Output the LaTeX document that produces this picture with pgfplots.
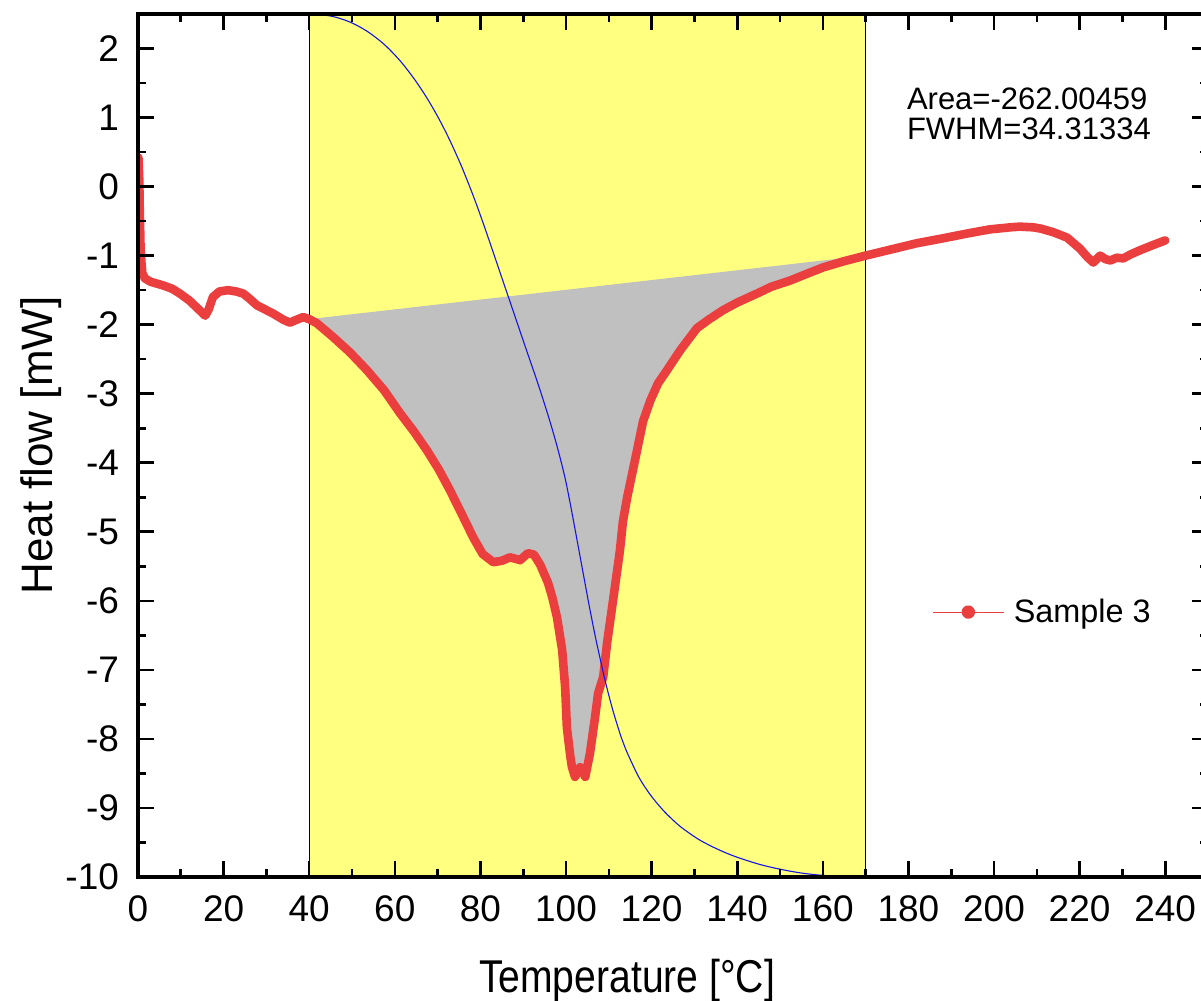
\documentclass[border=0pt]{standalone}
\usepackage{fontspec}
\setmainfont{Liberation Sans}
\usepackage{graphicx}
\usepackage{pgfplots}
\pgfplotsset{compat=1.18}
\usepackage{pgfplotstable}
\definecolor{hlyellow}{RGB}{255,255,128}
\definecolor{areagray}{RGB}{192,192,192}
\definecolor{curvered}{RGB}{235,62,62}
\definecolor{intblue}{RGB}{20,20,230}

\pgfplotstableread{
x y
0.1 0.42
0.3 0.10
0.4 -0.30
0.5 -0.60
0.6 -0.90
0.8 -1.10
1.0 -1.25
1.6 -1.33
3.0 -1.38
5.8 -1.43
8.0 -1.48
9.8 -1.55
12.0 -1.65
13.7 -1.75
15.7 -1.87
16.5 -1.78
17.5 -1.60
19.0 -1.52
21.0 -1.50
23.0 -1.52
24.6 -1.55
26.0 -1.62
27.8 -1.72
31.6 -1.84
34.0 -1.93
35.5 -1.97
37.0 -1.93
38.6 -1.89
40.0 -1.92
41.8 -1.98
45.6 -2.18
49.5 -2.40
53.5 -2.66
57.5 -2.95
61.2 -3.28
64.5 -3.55
67.5 -3.82
70.3 -4.10
72.9 -4.40
75.7 -4.75
78.3 -5.08
80.5 -5.32
83.0 -5.44
85.0 -5.42
86.9 -5.37
89.3 -5.41
91.1 -5.31
92.5 -5.33
94.0 -5.48
95.8 -5.74
96.8 -5.95
97.9 -6.24
99.1 -6.71
99.8 -7.25
100.2 -7.83
101.0 -8.25
101.4 -8.41
102.1 -8.55
103.3 -8.41
104.5 -8.55
105.6 -8.21
106.8 -7.68
107.5 -7.34
108.7 -7.10
109.6 -6.61
111.0 -5.99
112.6 -5.27
113.3 -4.85
114.3 -4.50
116.6 -3.82
118.0 -3.40
119.7 -3.10
121.5 -2.85
123.6 -2.66
126.7 -2.37
130.6 -2.05
133.5 -1.92
136.7 -1.79
140.0 -1.68
144.6 -1.55
148.0 -1.45
152.4 -1.36
156.0 -1.27
160.1 -1.17
165.0 -1.08
170.0 -1.00
176.0 -0.91
182.0 -0.82
188.0 -0.75
193.7 -0.68
199.0 -0.62
203.8 -0.59
206.0 -0.58
209.2 -0.59
211.0 -0.61
213.8 -0.66
215.5 -0.70
217.1 -0.74
218.6 -0.82
220.1 -0.90
221.8 -1.02
223.2 -1.10
224.8 -1.00
226.0 -1.05
227.2 -1.07
228.7 -1.03
230.2 -1.04
232.0 -0.98
234.2 -0.92
237.0 -0.85
240.0 -0.78
}\sample

\pgfplotstableread{
x y
40.0 2.500
41.8 2.497
45.6 2.463
49.5 2.384
53.5 2.251
57.5 2.061
61.2 1.825
64.5 1.563
67.5 1.284
70.3 0.983
72.9 0.665
75.7 0.277
78.3 -0.129
80.5 -0.503
83.0 -0.953
85.0 -1.319
86.9 -1.664
89.3 -2.102
91.1 -2.429
92.5 -2.681
94.0 -2.959
95.8 -3.310
96.8 -3.517
97.9 -3.758
99.1 -4.044
99.8 -4.227
100.2 -4.343
101.0 -4.594
101.4 -4.725
102.1 -4.959
103.3 -5.361
104.5 -5.764
105.6 -6.129
106.8 -6.502
107.5 -6.705
108.7 -7.037
109.6 -7.271
111.0 -7.597
112.6 -7.920
113.3 -8.043
114.3 -8.200
116.6 -8.505
118.0 -8.655
119.7 -8.809
121.5 -8.949
123.6 -9.092
126.7 -9.269
130.6 -9.440
133.5 -9.540
136.7 -9.633
140.0 -9.714
144.6 -9.806
148.0 -9.860
152.4 -9.916
156.0 -9.951
160.1 -9.977
165.0 -9.994
170.0 -10.000
}\integral

\begin{document}
\begin{tikzpicture}
\useasboundingbox (0pt,0pt) rectangle (600.5pt,500.5pt);
\clip (0pt,0pt) rectangle (600.5pt,500.5pt);
\begin{axis}[
  at={(69pt,62pt)}, anchor=south west,
  scale only axis, width=535pt, height=431.5pt,
  xmin=0, xmax=250, ymin=-10, ymax=2.5,
  xtick={0,20,...,240}, minor x tick num=1,
  ytick={-10,-9,...,2}, minor y tick num=1,
  tick pos=both, xticklabel pos=bottom, yticklabel pos=left,
  tick align=inside,
  major tick length=8pt, minor tick length=4pt,
  every tick/.style={black, line width=1.3pt},
  axis line style={line width=1.6pt},
  axis on top,
  clip=true,
  /pgf/number format/assume math mode=true,
  ticklabel style={font=\fontsize{18.5}{18.5}\selectfont},
  xticklabel style={yshift=-6pt},
  yticklabel style={xshift=-6pt},
  xlabel={\scalebox{0.85}[1]{Temperature [°C]}},
  ylabel={Heat flow [mW]},
  xlabel style={at={(axis description cs:0.457,-0.1344)}, anchor=base, font=\fontsize{23}{23}\selectfont},
  ylabel style={at={(axis description cs:-0.0795,0.5)}, anchor=base, font=\fontsize{22}{22}\selectfont},
  legend style={at={(0.742,0.307)}, anchor=west, draw=none, fill=none, inner sep=0pt,
    font=\fontsize{16.2}{16.2}\selectfont},
  legend cell align=left,
  legend image code/.code={
    \path[draw=none, fill=none] (0pt,-0.5pt) rectangle (38.5pt,0.5pt);
    \draw[line width=0.5pt, curvered, line cap=butt] (0pt,0pt) -- (35.5pt,0pt);
    \fill[curvered] (17.75pt,0pt) circle (1.25pt);
  },
]
\addplot[fill=hlyellow, draw=black, line width=0.5pt, forget plot]
  coordinates {(40,-10) (40,2.5) (170,2.5) (170,-10)} -- cycle;
\addplot[fill=areagray, draw=none, forget plot, restrict x to domain=40:170]
  table[x=x, y=y] {\sample} -- cycle;
\addplot[curvered, line width=4.3pt, line join=round, line cap=round]
  table[x=x, y=y] {\sample};
\addlegendentry{Sample 3}
\addplot[intblue, line width=0.55pt, smooth, forget plot]
  table[x=x, y=y] {\integral};
\node[anchor=base west, font=\fontsize{15.5}{16}\selectfont] at (axis description cs:0.7121,0.8899) {Area=-262.00459};
\node[anchor=base west, font=\fontsize{15.5}{16}\selectfont] at (axis description cs:0.7121,0.854) {FWHM=34.31334};
\end{axis}
\end{tikzpicture}
\end{document}
